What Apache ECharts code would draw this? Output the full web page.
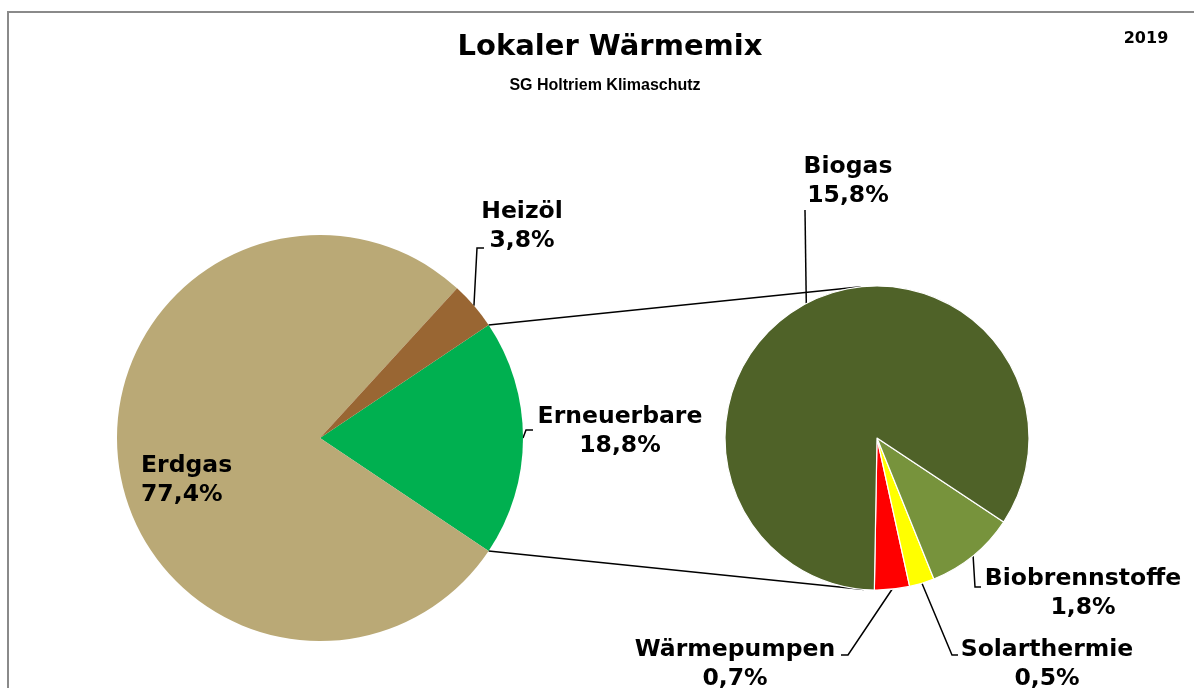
<!DOCTYPE html>
<html>
<head>
<meta charset="utf-8">
<title>Lokaler Wärmemix</title>
<script src="https://cdn.jsdelivr.net/npm/echarts@6/dist/echarts.min.js"></script>
<style>
  html, body { margin: 0; padding: 0; background: #fff; }
  #chart { width: 1194px; height: 688px; }
</style>
</head>
<body>
<div id="chart"></div>
<script>
// share of the local heat mix, percent (2019)
const mixNames = ["Erneuerbare", "Erdgas", "Heizöl"];
const mixValues = [18.8, 77.4, 3.8];
const mixColors = ["#00B050", "#BAA976", "#996633"];

// breakdown of "Erneuerbare", percent of the total
const renewNames = ["Wärmepumpen", "Solarthermie", "Biobrennstoffe", "Biogas"];
const renewValues = [0.7, 0.5, 1.8, 15.8];
const renewColors = ["#FF0000", "#FFFF00", "#77933C", "#4F6228"];

const FONT = "DejaVu Sans";

// pie geometry
const leftPie = { cx: 320, cy: 438, r: 203 };
const rightPie = { cx: 877, cy: 438, r: 152 };
const leftStart = mixValues[0] / 100 * 180;   // renewables slice centred on 3 o'clock
const rightStart = -91;                       // second pie starts at the bottom
const rightTopAngle = 96, rightBottomAngle = 265; // where the connectors meet pie 2

// label spots: text anchor + leader elbow/end (pixels)
const labelSpots = {
  "Erdgas":         { x: 141,  y: 480, align: "left" },
  "Heizöl":         { x: 522,  y: 226, align: "center", elbow: [477, 248], end: [484, 248] },
  "Erneuerbare":    { x: 620,  y: 431, align: "center", elbow: [526, 430], end: [533, 430] },
  "Biogas":         { x: 848,  y: 181, align: "center", elbow: [805, 210], end: [805, 210] },
  "Biobrennstoffe": { x: 1083, y: 593, align: "center", elbow: [975, 587], end: [981, 587] },
  "Solarthermie":   { x: 1047, y: 664, align: "center", elbow: [952, 655], end: [958, 655] },
  "Wärmepumpen":    { x: 735,  y: 664, align: "center", elbow: [848, 655], end: [841, 655] }
};

function fmt(v) {
  return v.toFixed(1).replace(".", ",") + "%";
}

function pt(p, deg) {
  const a = deg * Math.PI / 180;
  return [p.cx + p.r * Math.cos(a), p.cy - p.r * Math.sin(a)];
}

// mid angle of each slice (ECharts convention, degrees, y up)
function midAngles(values, start, clockwise) {
  const total = values.reduce((s, v) => s + v, 0);
  let acc = start;
  return values.map((v) => {
    const span = v / total * 360;
    const mid = clockwise ? acc - span / 2 : acc + span / 2;
    acc = clockwise ? acc - span : acc + span;
    return mid;
  });
}

const leftMids = midAngles(mixValues, leftStart, true);
const rightMids = midAngles(renewValues, rightStart, false);

function makeLayout(pie, names, mids) {
  return function (params) {
    const name = names[params.dataIndex];
    const spot = labelSpots[name];
    const out = { x: spot.x, y: spot.y, align: spot.align, verticalAlign: "middle" };
    if (spot.elbow) {
      out.labelLinePoints = [pt(pie, mids[params.dataIndex]), spot.elbow, spot.end];
    }
    return out;
  };
}

const labelText = {
  fontFamily: FONT,
  fontWeight: "bold",
  fontSize: 23.5,
  lineHeight: 29,
  color: "#000"
};

const chart = echarts.init(document.getElementById("chart"));

const topEdge = pt(leftPie, leftStart);
const bottomEdge = pt(leftPie, -leftStart);

chart.setOption({
  animation: false,
  backgroundColor: "#fff",
  title: [
    {
      text: "Lokaler Wärmemix",
      left: 605,
      top: 28,
      textAlign: "center",
      textStyle: { fontFamily: FONT, fontWeight: "bold", fontSize: 29, color: "#000" }
    },
    {
      text: "SG Holtriem Klimaschutz",
      left: 600,
      top: 73,
      textAlign: "center",
      textStyle: { fontFamily: "Liberation Sans", fontWeight: "bold", fontSize: 16, color: "#000" }
    },
    {
      text: "2019",
      left: 1141,
      top: 26,
      textAlign: "center",
      textStyle: { fontFamily: FONT, fontWeight: "bold", fontSize: 16, color: "#000" }
    }
  ],
  graphic: [
    {
      type: "rect",
      z: 0,
      shape: { x: 8, y: 12, width: 1300, height: 800 },
      style: { fill: "none", stroke: "#8a8a8a", lineWidth: 2 }
    },
    {
      type: "line",
      z: 0,
      shape: { x1: topEdge[0], y1: topEdge[1], x2: pt(rightPie, rightTopAngle)[0], y2: pt(rightPie, rightTopAngle)[1] },
      style: { stroke: "#000", lineWidth: 1.5 }
    },
    {
      type: "line",
      z: 0,
      shape: { x1: bottomEdge[0], y1: bottomEdge[1], x2: pt(rightPie, rightBottomAngle)[0], y2: pt(rightPie, rightBottomAngle)[1] },
      style: { stroke: "#000", lineWidth: 1.5 }
    }
  ],
  series: [
    {
      name: "Wärmemix",
      type: "pie",
      center: [leftPie.cx, leftPie.cy],
      radius: leftPie.r,
      startAngle: leftStart,
      clockwise: true,
      avoidLabelOverlap: false,
      emphasis: { disabled: true },
      itemStyle: { borderWidth: 0 },
      label: Object.assign({ show: true, position: "outside", formatter: (p) => p.name + "\n" + fmt(p.value) }, labelText),
      labelLine: { show: true, lineStyle: { color: "#000", width: 1.5 } },
      labelLayout: makeLayout(leftPie, mixNames, leftMids),
      data: mixNames.map((n, i) => ({
        name: n,
        value: mixValues[i],
        itemStyle: { color: mixColors[i] },
        label: n === "Erdgas" ? { position: "inside" } : undefined,
        labelLine: n === "Erdgas" ? { show: false } : undefined
      }))
    },
    {
      name: "Erneuerbare",
      type: "pie",
      center: [rightPie.cx, rightPie.cy],
      radius: rightPie.r,
      startAngle: rightStart,
      clockwise: false,
      avoidLabelOverlap: false,
      emphasis: { disabled: true },
      itemStyle: { borderColor: "#fff", borderWidth: 1.2 },
      label: Object.assign({ show: true, position: "outside", formatter: (p) => p.name + "\n" + fmt(p.value) }, labelText),
      labelLine: { show: true, lineStyle: { color: "#000", width: 1.5 } },
      labelLayout: makeLayout(rightPie, renewNames, rightMids),
      data: renewNames.map((n, i) => ({
        name: n,
        value: renewValues[i],
        itemStyle: { color: renewColors[i] }
      }))
    }
  ]
});

window.addEventListener("resize", () => {
  chart.resize();
});
</script>
</body>
</html>
